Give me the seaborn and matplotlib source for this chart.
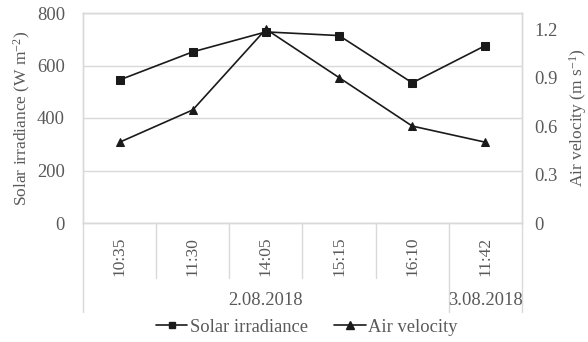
import numpy as np
import pandas as pd
import matplotlib
matplotlib.use("Agg")
import matplotlib.pyplot as plt
import matplotlib.transforms as mtransforms
from matplotlib.lines import Line2D
import seaborn as sns

times = ["10:35", "11:30", "14:05", "15:15", "16:10", "11:42"]
dates = ["2.08.2018", "3.08.2018"]
date_spans = [(0, 5), (5, 6)]  # category index ranges per date
solar_irradiance = [545, 652, 728, 714, 534, 676]
air_velocity = [0.5, 0.7, 1.2, 0.9, 0.6, 0.5]

sns.set_style("white")
plt.rcParams["font.family"] = ["Liberation Serif", "DejaVu Serif"]
plt.rcParams["mathtext.fontset"] = "custom"
plt.rcParams["mathtext.rm"] = "Liberation Serif"
plt.rcParams["mathtext.it"] = "Liberation Serif:italic"

txt = "#595959"
grid = "#d9d9d9"
line_c = "#1a1a1a"
fs = 13.3     # horizontal text
fs_rot = 12.5  # rotated text

df = pd.DataFrame({"pos": np.arange(len(times)), "time": times,
                   "solar": solar_irradiance, "air": air_velocity})

fig = plt.figure(figsize=(5.88, 3.42), dpi=100)
ax = fig.add_axes([83 / 588, 1 - 223 / 342, 439 / 588, 210 / 342])
ax2 = ax.twinx()

sns.lineplot(data=df, x="pos", y="solar", ax=ax, color=line_c, marker="s",
             markersize=5.2, markeredgecolor=line_c, linewidth=1.2, zorder=3)
sns.lineplot(data=df, x="pos", y="air", ax=ax2, color=line_c, marker="^",
             markersize=6, markeredgecolor=line_c, linewidth=1.2, zorder=3)

ax.set_xlim(-0.5, len(times) - 0.5)
ax.set_ylim(0, 800)
ax.set_yticks([0, 200, 400, 600, 800])
ax2.set_ylim(0, 1.3)
ax2.set_yticks([0, 0.3, 0.6, 0.9, 1.2])
ax2.set_yticklabels(["0", "0.3", "0.6", "0.9", "1.2"])

ax.yaxis.grid(True, color=grid, linewidth=1)
ax.set_axisbelow(True)
for a in (ax, ax2):
    for s in a.spines.values():
        s.set_color(grid)
        s.set_linewidth(1)
    a.tick_params(axis="both", length=0, labelsize=fs, colors=txt)
ax.tick_params(axis="y", pad=13)
ax2.tick_params(axis="y", pad=9)

ax.set_xticks([])
ax.set_xlabel("")
ax2.set_xlabel("")
ax.set_ylabel("Solar irradiance (W m$^{-2}$)", fontsize=fs_rot, color=txt, labelpad=3)
ax2.set_ylabel("Air velocity (m s$^{-1}$)", fontsize=fs_rot, color=txt, labelpad=7)

# multi-level category axis below the plot
trans = mtransforms.blended_transform_factory(ax.transData, ax.transAxes)
for i, t in enumerate(times):
    ax.text(i, -0.16, t, transform=trans, rotation=90, ha="center", va="center",
            fontsize=fs_rot, color=txt)
n = len(times)
for b in range(n + 1):
    outer = b in (0, n) or any(b == s for s, _ in date_spans)
    y_end = -0.425 if outer else -0.262
    ax.plot([b - 0.5, b - 0.5], [0, y_end], transform=trans, color=grid,
            linewidth=1, clip_on=False)
for d, (s, e) in zip(dates, date_spans):
    ax.text((s + e - 1) / 2, -0.367, d, transform=trans, ha="center",
            va="center", fontsize=fs, color=txt)

# legend
handles = [Line2D([], [], color=line_c, marker="s", markersize=5, linewidth=1.2),
           Line2D([], [], color=line_c, marker="^", markersize=5.5, linewidth=1.2)]
fig.legend(handles, ["Solar irradiance", "Air velocity"], loc="center",
           bbox_to_anchor=(0.522, 1 - 327 / 342), ncol=2, frameon=False,
           fontsize=fs, labelcolor=txt, handlelength=1.7, handletextpad=0.15,
           columnspacing=1.4)

fig.savefig("out.png", dpi=100)
